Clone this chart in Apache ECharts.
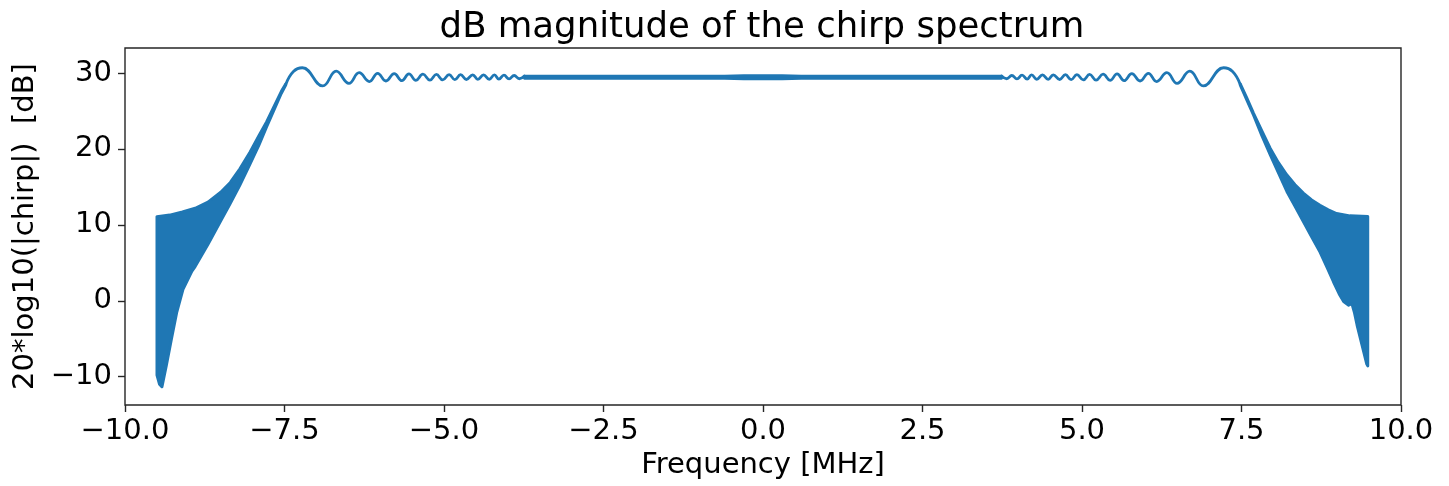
<!DOCTYPE html>
<html>
<head>
<meta charset="utf-8">
<script src="https://cdn.jsdelivr.net/npm/echarts@6/dist/echarts.min.js"></script>
<style>
html,body{margin:0;padding:0;background:#fff;}
#chart{width:1449px;height:486px;}
</style>
</head>
<body>
<div id="chart"></div>
<script>
// ---- data (frequency MHz, magnitude dB) ----
const xTicks = [-10, -7.5, -5, -2.5, 0, 2.5, 5, 7.5, 10];
const yTicks = [-10, 0, 10, 20, 30];

// left skirt: upper and lower envelope of the dense oscillation
const leftUpper = [[-9.50, 11.1], [-9.30, 11.3], [-9.10, 11.7], [-8.90, 12.2], [-8.70, 13.0], [-8.50, 14.3], [-8.35, 15.6], [-8.20, 17.4], [-8.04, 19.6], [-7.90, 21.8], [-7.78, 23.6], [-7.67, 25.5], [-7.55, 27.6], [-7.48, 28.6]];
const leftLower = [[-9.50, -9.8], [-9.46, -11.0], [-9.42, -11.35], [-9.35, -8.5], [-9.27, -5.0], [-9.19, -1.6], [-9.09, 1.5], [-8.95, 3.9], [-8.90, 4.5], [-8.70, 7.4], [-8.50, 10.5], [-8.35, 12.8], [-8.20, 15.2], [-8.04, 18.0], [-7.90, 20.5], [-7.78, 22.9], [-7.67, 25.0], [-7.55, 27.3], [-7.48, 28.4]];

// right skirt
const rightUpper = [[7.48, 28.6], [7.58, 26.8], [7.69, 24.7], [7.82, 22.4], [7.95, 20.1], [8.08, 18.2], [8.21, 16.6], [8.34, 15.3], [8.47, 14.2], [8.60, 13.3], [8.73, 12.6], [8.86, 12.0], [8.99, 11.5], [9.20, 11.2], [9.48, 11.1]];
const rightLower = [[7.48, 28.4], [7.58, 26.5], [7.69, 24.4], [7.82, 21.7], [7.95, 19.2], [8.08, 16.8], [8.21, 14.4], [8.34, 12.4], [8.47, 10.4], [8.60, 8.4], [8.73, 6.4], [8.84, 4.4], [8.94, 2.5], [9.03, 0.9], [9.10, -0.1], [9.18, -0.6], [9.23, -0.4], [9.27, -1.6], [9.31, -3.2], [9.39, -5.9], [9.46, -8.3], [9.48, -8.6]];

// passband ripple extrema (left and right of the dense centre)
const rippleLeft = [[-7.48, 28.5], [-7.36, 30.2], [-7.22, 30.7], [-6.90, 28.3], [-6.69, 30.25], [-6.49, 28.65], [-6.33, 30.05], [-6.17, 28.88], [-6.04, 29.97], [-5.91, 28.95], [-5.78, 29.92], [-5.66, 29.0], [-5.55, 29.88], [-5.44, 29.04], [-5.33, 29.85], [-5.22, 29.07], [-5.12, 29.82], [-5.02, 29.1], [-4.92, 29.8], [-4.83, 29.13], [-4.74, 29.78], [-4.65, 29.15], [-4.55, 29.77], [-4.47, 29.17], [-4.38, 29.76], [-4.29, 29.18], [-4.21, 29.75], [-4.14, 29.2], [-4.06, 29.72], [-3.98, 29.22], [-3.90, 29.68], [-3.82, 29.25], [-3.74, 29.62]];
const rippleRight = [[3.74, 29.62], [3.82, 29.25], [3.90, 29.68], [3.98, 29.22], [4.06, 29.72], [4.14, 29.2], [4.21, 29.75], [4.29, 29.18], [4.38, 29.76], [4.47, 29.17], [4.55, 29.77], [4.65, 29.15], [4.74, 29.78], [4.83, 29.13], [4.92, 29.8], [5.02, 29.1], [5.12, 29.82], [5.22, 29.07], [5.33, 29.85], [5.44, 29.04], [5.55, 29.88], [5.66, 29.0], [5.78, 29.92], [5.91, 28.95], [6.04, 29.97], [6.17, 28.88], [6.33, 30.05], [6.49, 28.65], [6.69, 30.25], [6.90, 28.3], [7.22, 30.7], [7.36, 30.2], [7.48, 28.5]];

// dense centre: envelope of the fast ripple
const centreUpper = [[-3.74, 29.6], [-0.6, 29.6], [-0.3, 29.66], [0.3, 29.66], [0.6, 29.6], [3.74, 29.6]];
const centreLower = [[-3.74, 29.3], [-0.6, 29.3], [-0.3, 29.24], [0.3, 29.24], [0.6, 29.3], [3.74, 29.3]];

// ---- chart ----
const C = '#1f77b4';
const LW = 2.8;
const FONT = 'DejaVu Sans';
const fmtMinus = s => String(s).replace('-', '\u2212');

function band(name, upper, lower) {
  return {
    name: name,
    type: 'custom',
    silent: true,
    data: [upper[0]],
    encode: {x: 0, y: 1},
    renderItem: function (params, api) {
      const pts = upper.map(p => api.coord(p))
        .concat(lower.slice().reverse().map(p => api.coord(p)));
      return {
        type: 'polygon',
        shape: {points: pts},
        style: {fill: C, stroke: C, lineWidth: LW, lineJoin: 'round'}
      };
    }
  };
}

function ripple(name, pts) {
  return {
    name: name,
    type: 'line',
    data: pts,
    showSymbol: false,
    smooth: 0.45,
    lineStyle: {color: C, width: LW, cap: 'round', join: 'round'},
    itemStyle: {color: C}
  };
}

const chart = echarts.init(document.getElementById('chart'), null, {renderer: 'canvas'});
chart.setOption({
  animation: false,
  backgroundColor: '#fff',
  title: {
    text: 'dB magnitude of the chirp spectrum',
    left: 757,
    textAlign: 'center',
    top: 5,
    textStyle: {fontFamily: FONT, fontSize: 35.5, fontWeight: 'normal', color: '#000'}
  },
  grid: {
    left: 125, right: 48, top: 48, bottom: 81,
    show: true, borderColor: '#262626', borderWidth: 1.4, backgroundColor: '#fff'
  },
  xAxis: {
    type: 'value',
    min: -10, max: 10,
    name: 'Frequency [MHz]',
    nameLocation: 'middle',
    nameGap: 42,
    nameTextStyle: {fontFamily: FONT, fontSize: 29, color: '#000'},
    axisLine: {show: false, onZero: false},
    axisTick: {show: true, length: 7, customValues: xTicks, lineStyle: {color: '#262626', width: 1.4}},
    axisLabel: {
      customValues: xTicks, margin: 12,
      fontFamily: FONT, fontSize: 29, color: '#000',
      formatter: v => fmtMinus(Number(v).toFixed(1))
    },
    splitLine: {show: false}
  },
  yAxis: {
    type: 'value',
    min: -13.73, max: 33.3,
    name: '20*log10(|chirp|)  [dB]',
    nameLocation: 'middle',
    nameGap: 80,
    nameTextStyle: {fontFamily: FONT, fontSize: 29, color: '#000'},
    axisLine: {show: false, onZero: false},
    axisTick: {show: true, length: 7, customValues: yTicks, lineStyle: {color: '#262626', width: 1.4}},
    axisLabel: {
      customValues: yTicks, margin: 13,
      fontFamily: FONT, fontSize: 29, color: '#000',
      formatter: v => fmtMinus(Math.round(v))
    },
    splitLine: {show: false}
  },
  series: [
    band('skirtLeft', leftUpper, leftLower),
    band('skirtRight', rightUpper, rightLower),
    band('centre', centreUpper, centreLower),
    ripple('rippleLeft', rippleLeft),
    ripple('rippleRight', rippleRight)
  ]
});
</script>
</body>
</html>
